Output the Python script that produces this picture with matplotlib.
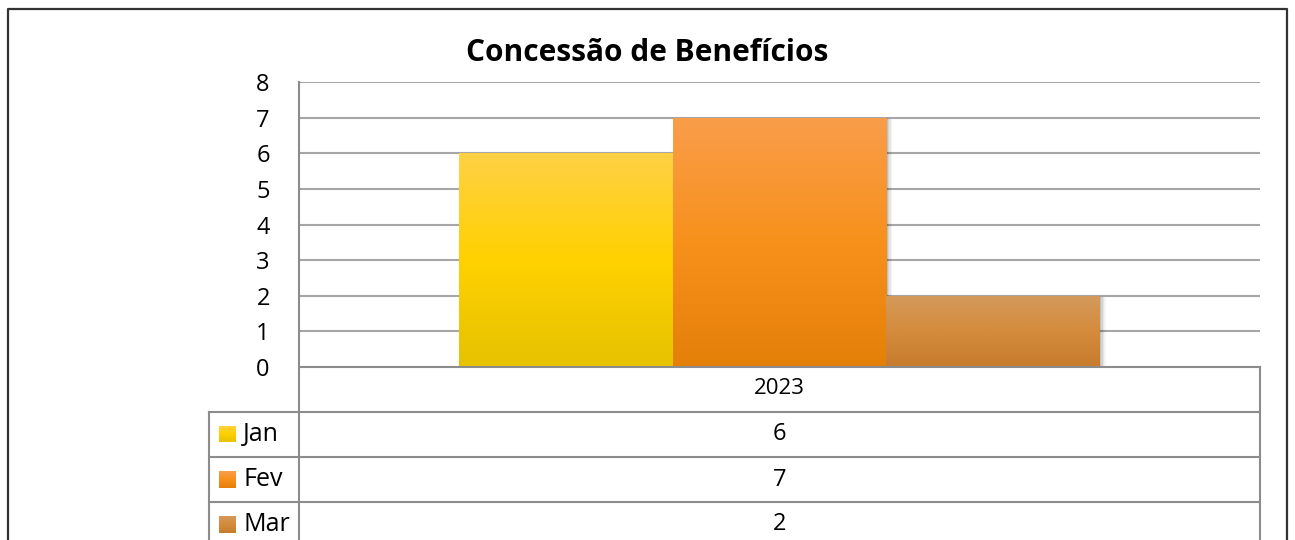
import matplotlib
matplotlib.use("Agg")
import matplotlib.pyplot as plt
import numpy as np
from matplotlib.colors import LinearSegmentedColormap
from matplotlib.patches import Rectangle
from matplotlib.lines import Line2D

# ---- data ----
title = "Concessão de Benefícios"
category = "2023"
series = ["Jan", "Fev", "Mar"]
values = [6, 7, 2]
yticks = [0, 1, 2, 3, 4, 5, 6, 7, 8]
# gradient colours (bottom, middle, top)
grads = [
    ["#E6C200", "#FFD100", "#FFD045"],
    ["#E47F08", "#F7911C", "#F99D4A"],
    ["#C67C2C", "#D48C3C", "#D49A5C"],
]

W, H = 1295, 540
fig = plt.figure(figsize=(W / 100, H / 100), dpi=100)
plt.rcParams['font.family'] = ['Open Sans', 'DejaVu Sans']

def fx(x):
    return x / W

def fy(y):
    return 1 - y / H

# figure border (bottom cut off)
fig.add_artist(Line2D([fx(8), fx(8), fx(1287), fx(1287)], [fy(560), fy(9), fy(9), fy(560)],
                      transform=fig.transFigure, color="#333333", lw=1.6))

L, R, T, B = 299, 1260, 82, 367
ax = fig.add_axes([fx(L), fy(B), fx(R) - fx(L), fy(T) - fy(B)])
ax.set_xlim(-0.5, 0.5)
ax.set_ylim(0, 8)
for s in ax.spines.values():
    s.set_visible(False)
ax.set_xticks([])
ax.set_yticks(yticks)
ax.set_yticklabels([str(t) for t in yticks], fontsize=17)
ax.tick_params(axis="y", length=0, pad=21)
for t in yticks[1:]:
    ax.axhline(t, color="#A6A6A6", lw=1.5, zorder=1)

bw = 1 / 4.5
xs = [(i - 1) * bw for i in range(len(series))]
bars = ax.bar(xs, values, width=bw, color="none", zorder=3)
for i, p in enumerate(bars.patches):
    x0, y0 = p.get_x(), p.get_y()
    w, h = p.get_width(), p.get_height()
    # soft shadow
    for k, a in enumerate([0.10, 0.08, 0.06, 0.04]):
        off = (k + 1) * 0.0016
        sh = Rectangle((x0 + off, y0 - (k + 1) * 0.012), w, h, facecolor="black",
                       alpha=a, lw=0, zorder=2)
        ax.add_patch(sh)
    cmap = LinearSegmentedColormap.from_list(f"g{i}", grads[i])
    grad = np.linspace(0, 1, 256).reshape(-1, 1)
    im = ax.imshow(grad, extent=(x0, x0 + w, y0, y0 + h), origin="lower", cmap=cmap,
                   aspect="auto", zorder=4, interpolation="bilinear")
    im.set_clip_path(p)
ax.set_xlim(-0.5, 0.5)
ax.set_ylim(0, 8)

fig.text(0.5, fy(53), title, ha="center", va="center", fontsize=21.5, fontweight="bold")

# ---- data table ----
lc = "#8C8C8C"
def hline(x0, x1, y, c=lc, lw=1.5):
    fig.add_artist(Line2D([fx(x0), fx(x1)], [fy(y), fy(y)], transform=fig.transFigure, color=c, lw=lw))

def vline(x, y0, y1, c=lc, lw=1.5):
    fig.add_artist(Line2D([fx(x), fx(x)], [fy(y0), fy(y1)], transform=fig.transFigure, color=c, lw=lw))

rows = [367, 412, 457, 502, 547]
LL = 209
hline(L, R, rows[0])
for r in rows[1:4]:
    hline(LL, R, r)
vline(L, T, 545)
vline(R, rows[0], 545)
vline(LL, rows[1], 545)

cx = (L + R) / 2
fig.text(fx(cx), fy((rows[0] + rows[1]) / 2 - 1), category, ha="center", va="center", fontsize=16)
for i, (s, v) in enumerate(zip(series, values)):
    yc = (rows[i + 1] + rows[i + 2]) / 2
    fig.text(fx(cx), fy(yc), str(v), ha="center", va="center", fontsize=17)
    fig.text(fx(243), fy(yc), s, ha="left", va="center", fontsize=18)
    kax = fig.add_axes([fx(219), fy(yc + 8), fx(236) - fx(219), fy(yc - 9) - fy(yc + 8)])
    kax.axis("off")
    cmap = LinearSegmentedColormap.from_list(f"k{i}", grads[i])
    kax.imshow(np.linspace(0, 1, 64).reshape(-1, 1), origin="lower", cmap=cmap,
               aspect="auto", extent=(0, 1, 0, 1))

fig.savefig("out.png", dpi=100)
